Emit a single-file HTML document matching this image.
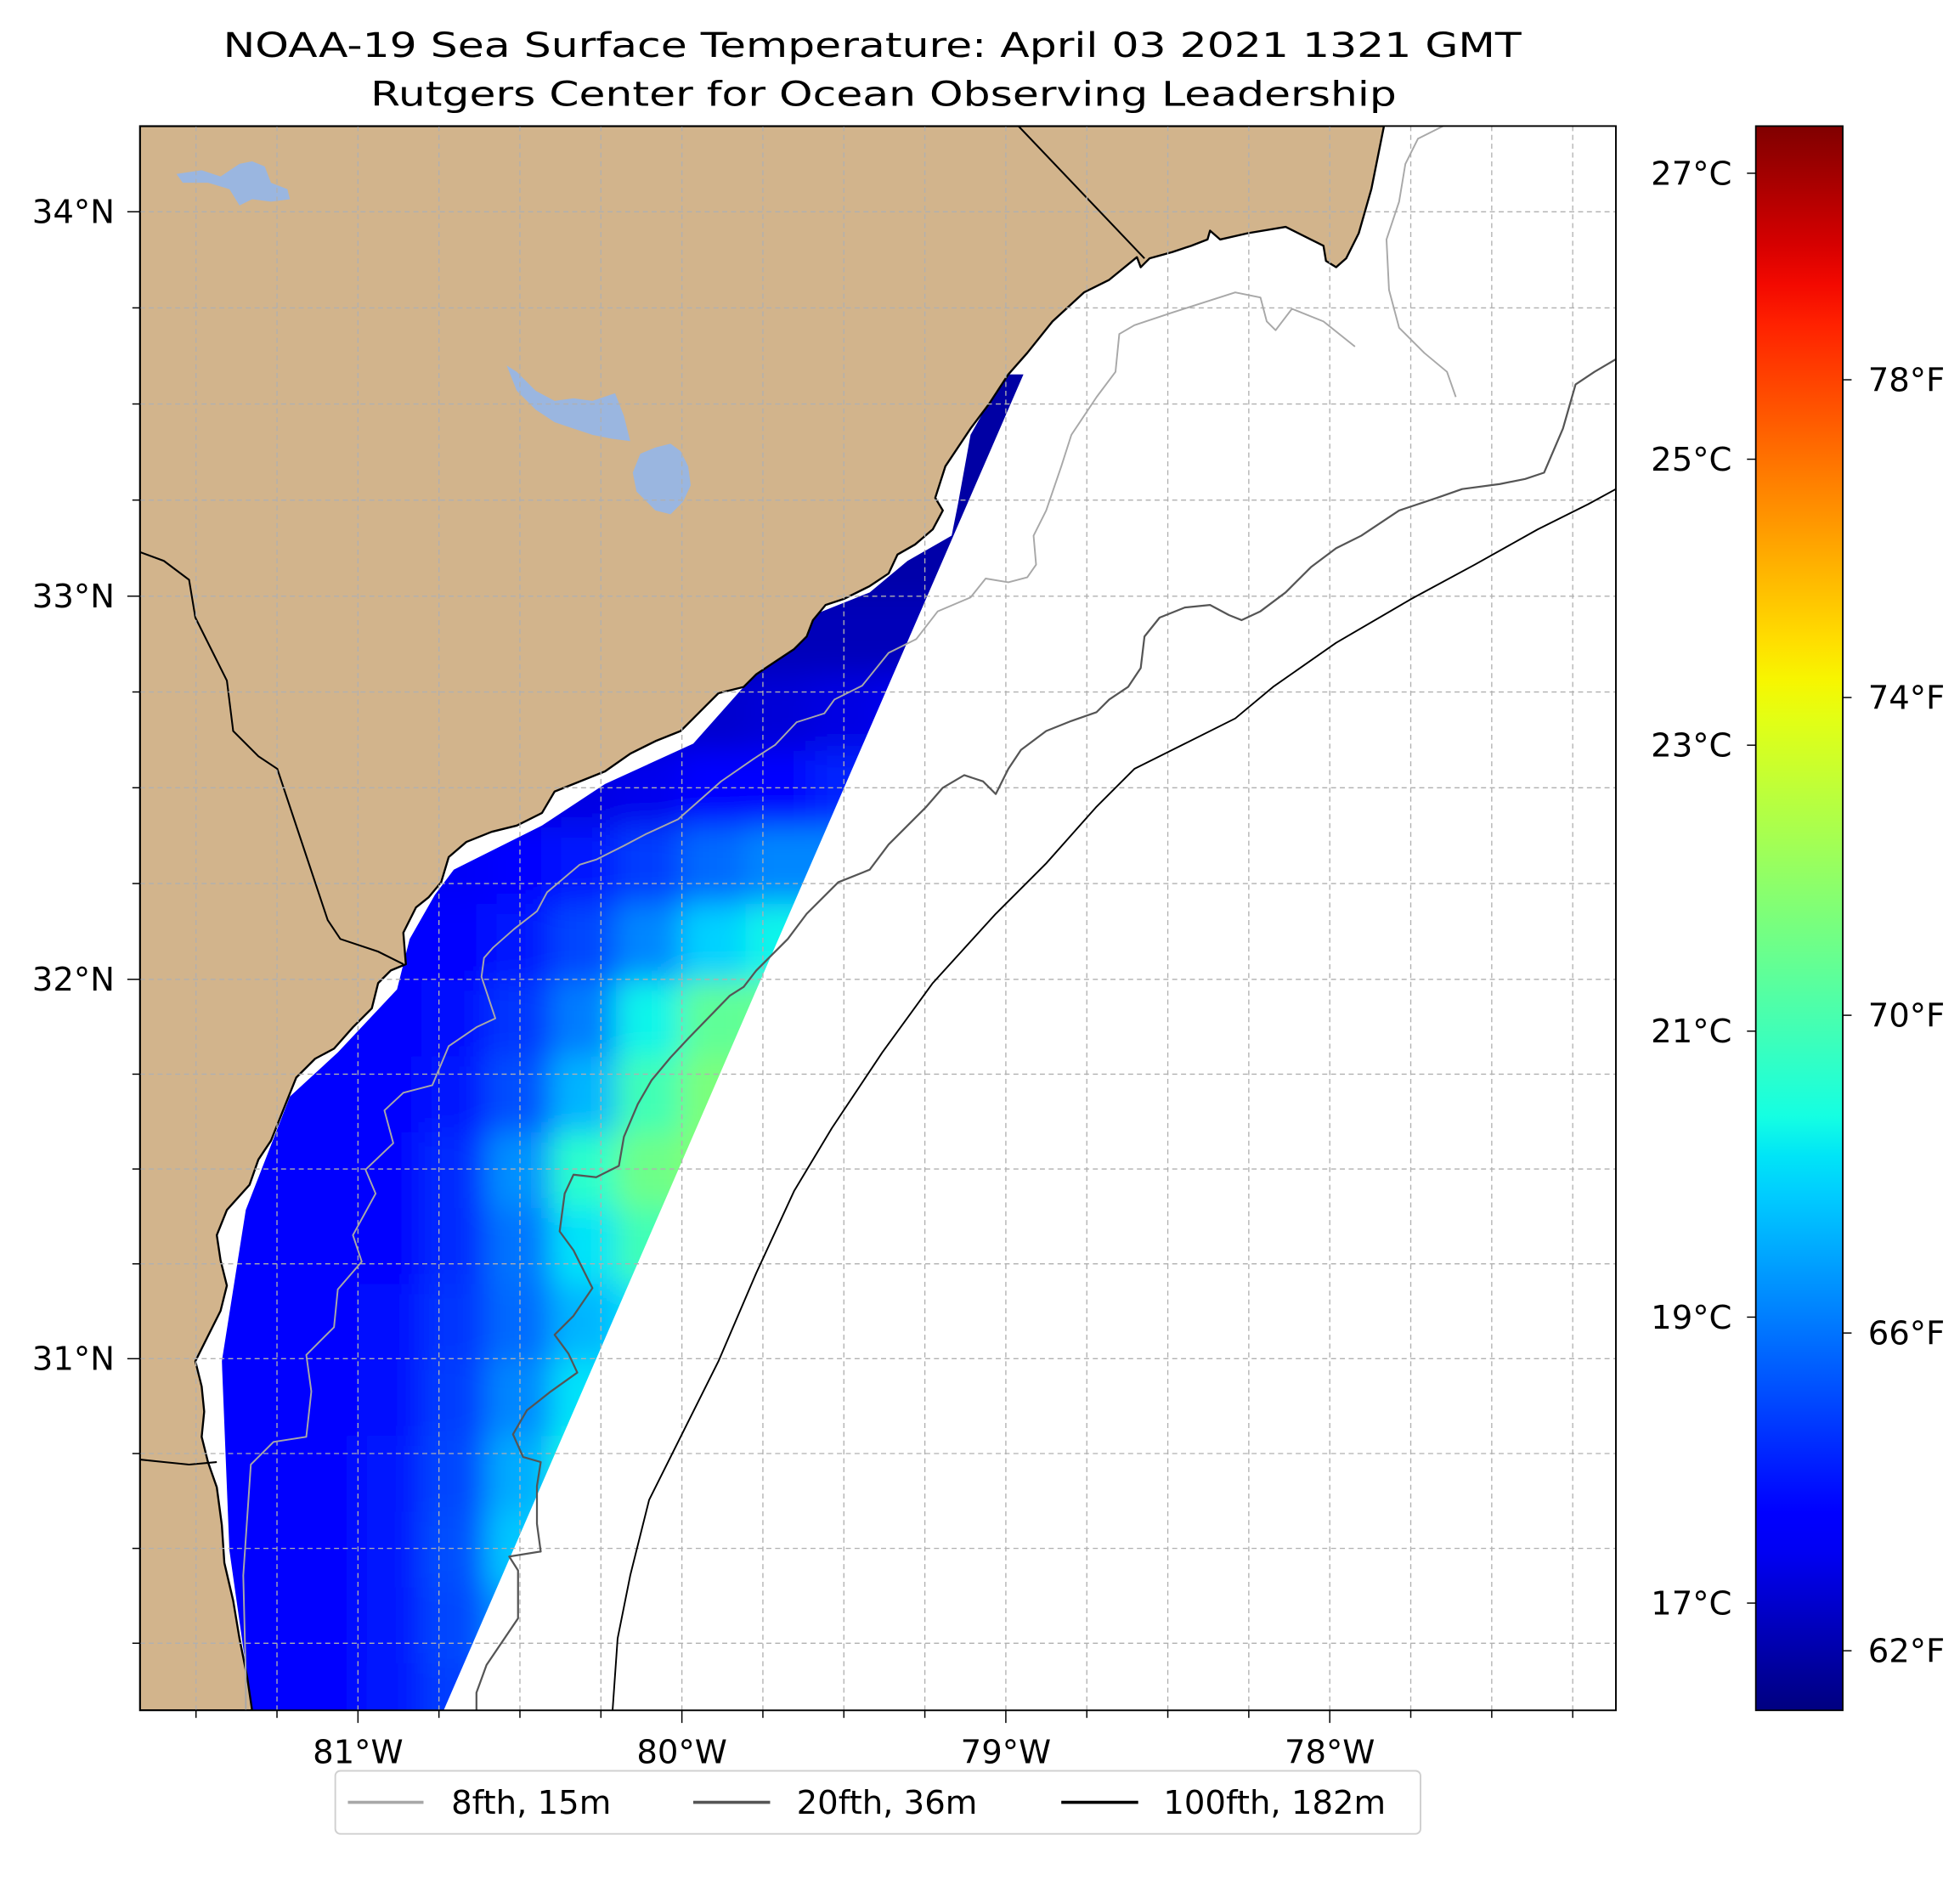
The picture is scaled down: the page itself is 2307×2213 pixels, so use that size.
<!DOCTYPE html>
<html><head><meta charset="utf-8"><style>
html,body{margin:0;padding:0;background:#fff;}
svg{display:block;font-family:"DejaVu Sans","Liberation Sans",sans-serif;}
</style></head><body>
<svg id="fig" width="2307" height="2213" viewBox="0 0 1555 1491.6" xmlns="http://www.w3.org/2000/svg">
<defs>
<clipPath id="plotClip"><rect x="111" y="100" width="1171" height="1257"/></clipPath>
<clipPath id="swathClip"><polygon points="352,1357 812,297 797,297 770,345 760,400 755,425 720,445 690,470 640,490 590,545 550,590 480,622 430,655 360,690 345,710 325,745 315,785 268,835 230,870 195,960 176,1080 182,1230 200,1357"/></clipPath>
<filter id="blur" x="-10%" y="-10%" width="120%" height="120%"><feGaussianBlur stdDeviation="12"/></filter>
<linearGradient id="cbGrad" x1="0" y1="1" x2="0" y2="0"></linearGradient>
</defs>
<rect width="1555" height="1491.6" fill="#fff"/>
<text x="692" y="45" font-size="27" text-anchor="middle" textLength="1030" lengthAdjust="spacingAndGlyphs">NOAA-19 Sea Surface Temperature: April 03 2021 1321 GMT</text>
<text x="701" y="84" font-size="27" text-anchor="middle" textLength="814" lengthAdjust="spacingAndGlyphs">Rutgers Center for Ocean Observing Leadership</text>

<g clip-path="url(#plotClip)">
  <g clip-path="url(#swathClip)"><g id="sstCells" filter="url(#blur)"></g></g>
  <path fill="#d2b48c" stroke="#000" stroke-width="1.6" stroke-linejoin="round" d="M111,100 L1098,100 L1088,150 L1078,185 L1068,205 L1060,212 L1052,207 L1050,195 L1040,190 L1020,180 L990,185 L968,190 L960,183 L958,190 L945,195 L930,200 L912,205 L905,212 L902,204 L880,222 L860,232 L835,255 L815,280 L800,297 L785,320 L770,340 L750,370 L742,395 L748,405 L740,420 L726,432 L712,440 L705,455 L690,465 L670,475 L655,480 L645,492 L640,505 L630,515 L615,525 L600,535 L590,545 L570,550 L560,560 L550,570 L540,580 L520,588 L500,598 L480,612 L460,620 L440,628 L430,645 L410,655 L390,660 L370,668 L356,680 L350,700 L340,712 L330,720 L320,740 L322,765 L310,770 L300,780 L295,800 L280,815 L265,832 L250,840 L235,855 L225,880 L215,905 L205,920 L198,940 L180,960 L172,980 L175,1000 L180,1020 L175,1040 L165,1060 L155,1080 L160,1100 L162,1120 L160,1140 L165,1160 L172,1180 L176,1210 L178,1240 L185,1270 L190,1300 L196,1330 L200,1357 L111,1357 Z"/>
  <g fill="#9ab6e0">
    <path d="M140,138 L160,135 L175,140 L190,130 L200,128 L210,132 L215,145 L228,150 L230,158 L215,160 L200,158 L190,163 L182,150 L165,145 L145,145 Z"/>
    <path d="M402,290 L410,295 L425,310 L440,318 L455,316 L470,318 L488,312 L495,330 L500,350 L485,348 L470,345 L455,340 L440,335 L425,325 L410,310 Z"/>
    <path d="M508,360 L520,355 L532,352 L540,358 L546,370 L548,385 L542,398 L532,408 L520,405 L505,390 L502,375 Z"/>
  </g>
  <polyline fill="none" stroke="#000" stroke-width="1.4" points="111,438 130,445 150,460 155,490 170,520 180,540 185,580 205,600 220,610 230,640 240,670 250,700 260,730 270,745 300,755 320,765"/>
  <polyline fill="none" stroke="#000" stroke-width="1.4" points="111,1158 130,1160 150,1162 172,1160"/>
  <polyline fill="none" stroke="#000" stroke-width="1.4" points="808,100 908,205"/>
  <g id="grid"></g>
  <g fill="none" stroke-linejoin="round">
    <polyline stroke="#a8a8a8" stroke-width="1.3" points="195,1357 195,1330 193,1250 199,1162 217,1144 243,1140 247,1104 243,1075 265,1053 268,1023 287,1001 280,980 298,947 290,928 312,907 305,881 320,867 343,861 356,830 378,815 393,808 382,775 384,760 391,752 408,737 426,723 434,708 460,686 473,682 495,671 512,662 538,650 572,620 598,602 615,591 632,573 654,566 662,555 684,544 705,518 727,507 744,485 770,474 782,459 800,462 815,458 822,448 820,425 830,405 842,370 850,345 870,315 885,295 888,265 900,258 930,248 955,240 980,232 1000,236 1005,255 1012,262 1025,245 1050,255 1075,275"/>
    <polyline stroke="#a8a8a8" stroke-width="1.3" points="1145,100 1125,110 1115,130 1110,160 1100,190 1102,230 1110,260 1130,280 1148,295 1155,315"/>
    <polyline stroke="#555" stroke-width="1.5" points="378,1357 378,1343 386,1321 411,1284 411,1246 404,1235 429,1231 426,1209 426,1179 429,1160 415,1156 407,1138 418,1119 437,1104 458,1089 451,1074 440,1059 455,1044 470,1022 455,992 444,977 448,947 455,932 473,934 491,925 495,902 506,876 517,857 532,839 546,824 579,790 590,783 600,770 610,760 625,745 640,725 650,715 665,700 690,690 705,670 720,655 735,640 748,625 765,615 780,620 790,630 800,610 810,595 830,580 850,572 870,565 880,555 895,545 905,530 908,505 920,490 940,482 960,480 975,488 985,492 1000,485 1020,470 1040,450 1060,435 1080,425 1110,405 1140,395 1160,388 1190,384 1210,380 1225,375 1240,340 1250,305 1265,295 1282,285"/>
    <polyline stroke="#000" stroke-width="1.3" points="486,1357 490,1300 500,1250 515,1190 540,1140 570,1080 600,1010 630,945 660,895 700,835 740,780 790,725 830,685 870,640 900,610 940,590 980,570 1010,545 1060,510 1120,475 1170,448 1220,420 1260,400 1282,388"/>
  </g>
</g>
<rect x="111" y="100" width="1171" height="1257" fill="none" stroke="#000" stroke-width="1.3"/>
<g id="axes" font-size="26"></g>

<rect x="1393" y="100" width="69" height="1257" fill="url(#cbGrad)" stroke="#000" stroke-width="1.2"/>
<g id="cbAxes" font-size="26"></g>

<g>
  <rect x="266" y="1405" width="861" height="50" rx="4" fill="#fff" stroke="#d0d0d0" stroke-width="1.3"/>
  <line x1="276" y1="1430" x2="336" y2="1430" stroke="#a8a8a8" stroke-width="2.5"/>
  <text x="358" y="1439" font-size="26">8fth, 15m</text>
  <line x1="550" y1="1430" x2="611" y2="1430" stroke="#555" stroke-width="2.5"/>
  <text x="632" y="1439" font-size="26">20fth, 36m</text>
  <line x1="842" y1="1430" x2="903" y2="1430" stroke="#000" stroke-width="2.5"/>
  <text x="923" y="1439" font-size="26">100fth, 182m</text>
</g>
</svg>
<script>
const gridLons = [-81.5,-81.3,-81.1,-80.9,-80.7,-80.5,-80.3,-80.1,-79.9,-79.7,-79.5,-79.3,-79.1,-78.9,-78.7];
const gridLats = [30.1,30.3,30.5,30.7,30.9,31.1,31.3,31.5,31.7,31.9,32.1,32.3,32.5,32.7,32.9,33.1,33.3,33.5,33.7];
const sstRow30_1 = [17.6,17.6,17.7,17.9,18.3,18.8,19.1,19.1,19.1,19.1,19.1,19.1,19.1,19.1,19.1];
const sstRow30_3 = [17.5,17.5,17.6,17.9,18.4,19.3,19.8,19.8,19.8,19.8,19.8,19.8,19.8,19.8,19.8];
const sstRow30_5 = [17.5,17.5,17.6,17.9,18.5,19.8,20.6,20.6,20.6,20.6,20.6,20.6,20.6,20.6,20.6];
const sstRow30_7 = [17.5,17.5,17.6,17.9,18.4,19.5,20.4,20.4,20.4,20.4,20.4,20.4,20.4,20.4,20.4];
const sstRow30_9 = [17.5,17.5,17.5,17.8,18.3,19.1,20.1,20.2,20.2,20.2,20.2,20.2,20.2,20.2,20.2];
const sstRow31_1 = [17.5,17.5,17.5,17.8,18.2,18.8,19.6,20.1,20.1,20.1,20.1,20.1,20.1,20.1,20.1];
const sstRow31_3 = [17.5,17.5,17.5,17.7,18.1,18.9,20.1,21.0,21.3,21.3,21.3,21.3,21.3,21.3,21.3];
const sstRow31_5 = [17.5,17.5,17.5,17.7,18.1,19.2,20.7,21.6,21.9,21.9,21.9,21.9,21.9,21.9,21.9];
const sstRow31_7 = [17.5,17.5,17.5,17.6,17.9,18.5,19.6,21.0,21.8,21.8,21.8,21.8,21.8,21.8,21.8];
const sstRow31_9 = [17.5,17.5,17.5,17.5,17.8,18.2,19.0,20.3,21.4,21.5,21.5,21.5,21.5,21.5,21.5];
const sstRow32_1 = [17.5,17.5,17.5,17.5,17.6,17.9,18.4,19.1,19.9,20.3,20.3,20.3,20.3,20.3,20.3];
const sstRow32_3 = [17.4,17.4,17.4,17.4,17.4,17.6,17.9,18.3,18.8,19.1,19.1,19.1,19.1,19.1,19.1];
const sstRow32_5 = [17.2,17.2,17.2,17.2,17.2,17.2,17.2,17.3,17.5,17.7,18.0,18.0,18.0,18.0,18.0];
const sstRow32_7 = [17.0,17.0,17.0,17.0,17.0,17.0,17.0,17.0,17.0,17.1,17.2,17.3,17.3,17.3,17.3];
const sstRow32_9 = [16.8,16.8,16.8,16.8,16.8,16.8,16.8,16.8,16.8,16.8,16.8,16.8,16.8,16.8,16.8];
const sstRow33_1 = [16.65,16.65,16.65,16.65,16.65,16.65,16.65,16.65,16.65,16.65,16.65,16.65,16.65,16.65,16.65];
const sstRow33_3 = [16.6,16.6,16.6,16.6,16.6,16.6,16.6,16.6,16.6,16.6,16.6,16.6,16.6,16.6,16.6];
const sstRow33_5 = [16.6,16.6,16.6,16.6,16.6,16.6,16.6,16.6,16.6,16.6,16.6,16.6,16.6,16.6,16.6];
const sstRow33_7 = [16.6,16.6,16.6,16.6,16.6,16.6,16.6,16.6,16.6,16.6,16.6,16.6,16.6,16.6,16.6];
const sstRows = [sstRow30_1,sstRow30_3,sstRow30_5,sstRow30_7,sstRow30_9,sstRow31_1,sstRow31_3,sstRow31_5,sstRow31_7,sstRow31_9,sstRow32_1,sstRow32_3,sstRow32_5,sstRow32_7,sstRow32_9,sstRow33_1,sstRow33_3,sstRow33_5,sstRow33_7];
const lonTicks = [-81,-80,-79,-78];
const lonTickLabels = ["81°W","80°W","79°W","78°W"];
const latTicks = [34,33,32,31];
const latTickLabels = ["34°N","33°N","32°N","31°N"];
const cTicks = [27,25,23,21,19,17];
const cTickLabels = ["27°C","25°C","23°C","21°C","19°C","17°C"];
const fTicks = [78,74,70,66,62];
const fTickLabels = ["78°F","74°F","70°F","66°F","62°F"];
const cMin = 16.25, cMax = 27.33;

const NS = "http://www.w3.org/2000/svg";
function mk(tag, attrs, parent){const e=document.createElementNS(NS,tag);for(const k in attrs)e.setAttribute(k,attrs[k]);parent.appendChild(e);return e;}
function xLon(lon){return 284+(lon+81)*257;}
const latKnots=[[29,1680],[30,1379],[31,1078],[32,777],[33,473],[34,168],[35,-140]];
function yLat(lat){for(let i=0;i<latKnots.length-1;i++){const a=latKnots[i],b=latKnots[i+1];if(lat<=b[0]||i===latKnots.length-2){return a[1]+(lat-a[0])*(b[1]-a[1])/(b[0]-a[0]);}}}
function interp(pts,t){for(let i=0;i<pts.length-1;i++){if(t<=pts[i+1][0]){const a=pts[i],b=pts[i+1];return a[1]+(t-a[0])*(b[1]-a[1])/(b[0]-a[0]);}}return pts[pts.length-1][1];}
function jet(t){t=Math.max(0,Math.min(1,t));
 const r=interp([[0,0],[0.35,0],[0.66,1],[0.89,1],[1,0.5]],t);
 const g=interp([[0,0],[0.125,0],[0.375,1],[0.64,1],[0.91,0],[1,0]],t);
 const b=interp([[0,0.5],[0.11,1],[0.34,1],[0.65,0],[1,0]],t);
 return "rgb("+Math.round(r*255)+","+Math.round(g*255)+","+Math.round(b*255)+")";}
function cScale(c){return (c-cMin)/(cMax-cMin);}
function cbY(c){return 1357-cScale(c)*1257;}

const cells=document.getElementById('sstCells');
for(let r=0;r<gridLats.length;r++){
  for(let c=0;c<gridLons.length;c++){
    const lon=gridLons[c], lat=gridLats[r];
    let x0=xLon(lon-0.1), x1=xLon(lon+0.1), y0=yLat(lat+0.1), y1=yLat(lat-0.1);
    if(c===0) x0-=60; if(c===gridLons.length-1) x1+=60;
    if(r===0) y1+=60; if(r===gridLats.length-1) y0-=60;
    const el=mk('rect',{x:x0-1,y:y0-1,width:x1-x0+2,height:y1-y0+2,fill:jet(cScale(sstRows[r][c]))},cells);
    
    
  }
}

const grid=document.getElementById('grid');
for(let lon=-81.75;lon<=-77;lon+=0.25){
  const x=xLon(lon); if(x<111||x>1282) continue;
  const l=mk('line',{x1:x,y1:100,x2:x,y2:1357,stroke:"#b0b0b0","stroke-width":0.9,"stroke-dasharray":"4,3"},grid);
  
  
}
for(let lat=30;lat<=34.5;lat+=0.25){
  const y=yLat(lat); if(y<100||y>1357) continue;
  const l=mk('line',{x1:111,y1:y,x2:1282,y2:y,stroke:"#b0b0b0","stroke-width":0.9,"stroke-dasharray":"4,3"},grid);
  
  
}

const axes=document.getElementById('axes');
for(let lon=-81.75;lon<=-77;lon+=0.25){
  const x=xLon(lon); if(x<111||x>1282) continue;
  const major=Math.abs(lon-Math.round(lon))<1e-6;
  const t=mk('line',{x1:x,y1:1357,x2:x,y2:1357+(major?10:6),stroke:"#000","stroke-width":1},axes);
  
  
}
for(let lat=30;lat<=34.5;lat+=0.25){
  const y=yLat(lat); if(y<100||y>1357) continue;
  const major=Math.abs(lat-Math.round(lat))<1e-6;
  const t=mk('line',{x1:111,y1:y,x2:111-(major?10:6),y2:y,stroke:"#000","stroke-width":1},axes);
  
  
}
lonTicks.forEach((v,i)=>{
  const t=mk('text',{x:xLon(v),y:1399,"text-anchor":"middle"},axes);t.textContent=lonTickLabels[i];
  
  
});
latTicks.forEach((v,i)=>{
  const t=mk('text',{x:91,y:yLat(v)+9,"text-anchor":"end"},axes);t.textContent=latTickLabels[i];
  
  
});

const grad=document.getElementById('cbGrad');
for(let i=0;i<=40;i++){mk('stop',{offset:(i/40),"stop-color":jet(i/40)},grad);}
const cb=document.getElementById('cbAxes');
cTicks.forEach((v,i)=>{
  const y=cbY(v);
  const l=mk('line',{x1:1386,y1:y,x2:1393,y2:y,stroke:"#000","stroke-width":1},cb);
  
  
  const t=mk('text',{x:1374,y:y+9,"text-anchor":"end"},cb);t.textContent=cTickLabels[i];
  
  
});
fTicks.forEach((v,i)=>{
  const y=cbY((v-32)*5/9);
  const l=mk('line',{x1:1462,y1:y,x2:1469,y2:y,stroke:"#000","stroke-width":1},cb);
  
  
  const t=mk('text',{x:1482,y:y+9,"text-anchor":"start"},cb);t.textContent=fTickLabels[i];
  
  
});
</script>
</body></html>
